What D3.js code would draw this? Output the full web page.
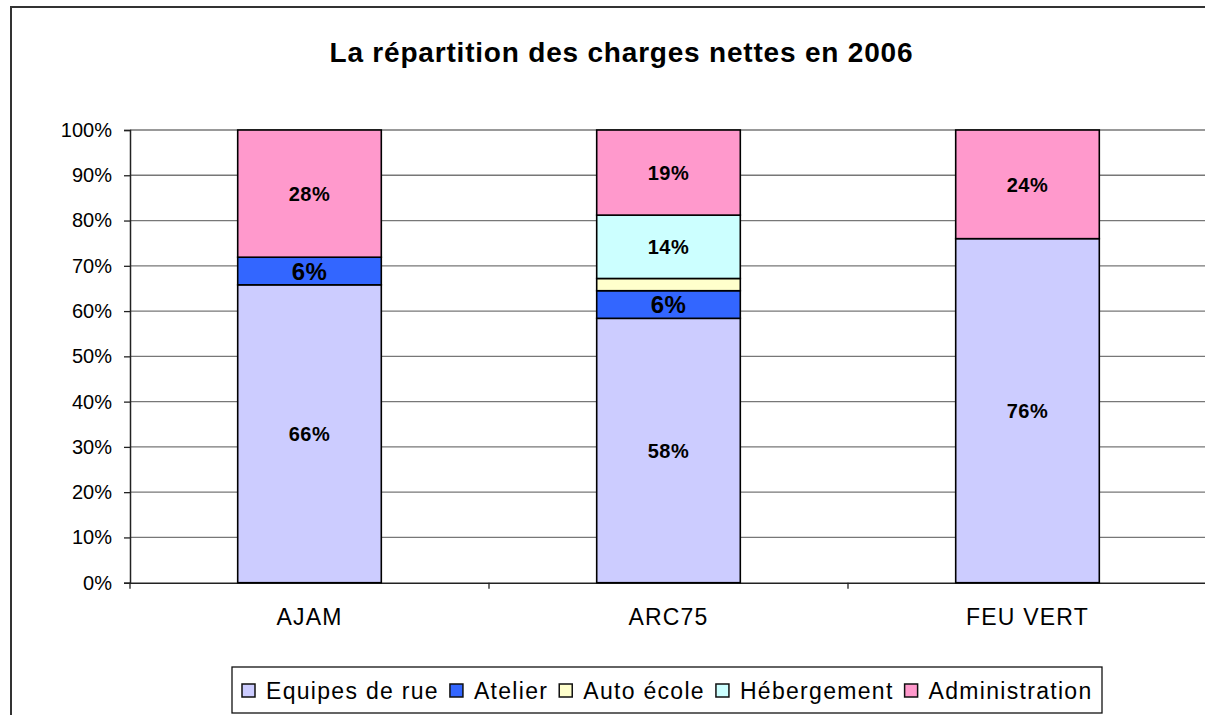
<!DOCTYPE html>
<html>
<head>
<meta charset="utf-8">
<script src="https://cdn.jsdelivr.net/npm/d3@7"></script>
<style>
  body { margin: 0; background: #fff; }
  svg { display: block; font-family: Arial, "Liberation Sans", sans-serif; }
</style>
</head>
<body>
<div id="chart"></div>
<script>
const title = "La répartition des charges nettes en 2006";
const categories = ["AJAM", "ARC75", "FEU VERT"];
const seriesNames = ["Equipes de rue", "Atelier", "Auto école", "Hébergement", "Administration"];
const colors = ["#CCCCFF", "#3366FF", "#FFFFCC", "#CCFFFF", "#FF99CC"];
// percentages per series, in category order
const equipes = [65.8, 58.4, 76.0];
const atelier = [6.1, 6.1, 0];
const autoEcole = [0, 2.7, 0];
const hebergement = [0, 14.0, 0];
const administration = [28.1, 18.8, 24.0];
const yTicks = [0, 10, 20, 30, 40, 50, 60, 70, 80, 90, 100];

const w = 1205, h = 715;
const plotLeft = 130, plotRight = 1207, plotTop = 130, plotBottom = 582.7;

const seriesValues = [equipes, atelier, autoEcole, hebergement, administration];
const rows = categories.map((c, i) => {
  const r = { cat: c };
  seriesNames.forEach((s, j) => { r[s] = seriesValues[j][i]; });
  return r;
});
const stacked = d3.stack().keys(seriesNames)(rows);

const svg = d3.select("#chart").append("svg").attr("width", w).attr("height", h);

// outer chart border (runs off right/bottom)
svg.append("rect")
   .attr("x", 11).attr("y", 7).attr("width", w + 20).attr("height", h + 20)
   .attr("fill", "none").attr("stroke", "#333").attr("stroke-width", 2);

svg.append("text")
   .attr("x", 621).attr("y", 62)
   .attr("text-anchor", "middle")
   .attr("font-size", 28).attr("font-weight", "bold")
   .attr("textLength", 583).attr("lengthAdjust", "spacing")
   .text(title);

const x = d3.scaleBand().domain(categories).range([plotLeft, plotRight]).paddingInner(0.6).paddingOuter(0.3);
const xb = d3.scaleBand().domain(categories).range([plotLeft, plotRight]);
const y = d3.scaleLinear().domain([0, 100]).range([plotBottom, plotTop]);

// gridlines
svg.append("g").selectAll("line").data(yTicks.slice(1)).join("line")
   .attr("x1", plotLeft).attr("x2", plotRight)
   .attr("y1", d => y(d)).attr("y2", d => y(d))
   .attr("stroke", "#777").attr("stroke-width", 1.3);

// y axis
const yAxis = svg.append("g").attr("transform", `translate(${plotLeft},0)`)
   .call(d3.axisLeft(y).tickValues(yTicks).tickFormat(d => d + "%").tickSize(6).tickPadding(12));
yAxis.select(".domain").attr("stroke", "#222").attr("stroke-width", 1.5);
yAxis.selectAll(".tick line").attr("stroke", "#222").attr("stroke-width", 1.3);
yAxis.selectAll(".tick text").attr("font-size", 20)
     .attr("fill", "#000").attr("font-family", "Arial, 'Liberation Sans', sans-serif");

// x axis
const xAxis = svg.append("g").attr("transform", `translate(0,${plotBottom})`)
   .call(d3.axisBottom(xb).tickSize(0).tickPadding(26));
xAxis.select(".domain").attr("stroke", "#222").attr("stroke-width", 1.5);
xAxis.selectAll(".tick text").attr("font-size", 23).attr("letter-spacing", 1.2)
     .attr("fill", "#000").attr("font-family", "Arial, 'Liberation Sans', sans-serif");
// category separator ticks
svg.append("g").selectAll("line").data(categories.concat(["end"])).join("line")
   .attr("x1", (d, i) => plotLeft + i * xb.bandwidth()).attr("x2", (d, i) => plotLeft + i * xb.bandwidth())
   .attr("y1", plotBottom).attr("y2", plotBottom + 6)
   .attr("stroke", "#222").attr("stroke-width", 1.3);

// bars
const layers = svg.append("g").selectAll("g").data(stacked).join("g")
   .attr("fill", (d, i) => colors[i]);
layers.selectAll("rect").data(d => d.filter(p => p[1] - p[0] > 0)).join("rect")
   .attr("x", d => x(d.data.cat))
   .attr("width", x.bandwidth())
   .attr("y", d => y(d[1]))
   .attr("height", d => y(d[0]) - y(d[1]))
   .attr("stroke", "#000").attr("stroke-width", 1.6);

// value labels
stacked.forEach((layer, i) => {
  const big = seriesNames[i] === "Atelier";
  svg.append("g").selectAll("text")
     .data(layer.filter(p => p[1] - p[0] >= 5))
     .join("text")
     .attr("x", d => x(d.data.cat) + x.bandwidth() / 2)
     .attr("y", d => (y(d[0]) + y(d[1])) / 2)
     .attr("dy", "0.36em")
     .attr("text-anchor", "middle")
     .attr("font-weight", "bold")
     .attr("font-size", big ? 24 : 20)
     .attr("letter-spacing", 0.5)
     .text(d => Math.round(d[1] - d[0]) + "%");
});

// legend
const legend = svg.append("g");
legend.append("rect")
   .attr("x", 232).attr("y", 667).attr("width", 870).attr("height", 46)
   .attr("fill", "#fff").attr("stroke", "#111").attr("stroke-width", 1.3);
let lx = 242;
seriesNames.forEach((s, i) => {
  legend.append("rect")
     .attr("x", lx).attr("y", 684).attr("width", 13).attr("height", 13)
     .attr("fill", colors[i]).attr("stroke", "#111").attr("stroke-width", 1.5);
  const t = legend.append("text")
     .attr("x", lx + 24).attr("y", 699)
     .attr("font-size", 23).attr("letter-spacing", 1.3)
     .text(s);
  lx += 24 + t.node().getComputedTextLength() + 11;
});
</script>
</body>
</html>
